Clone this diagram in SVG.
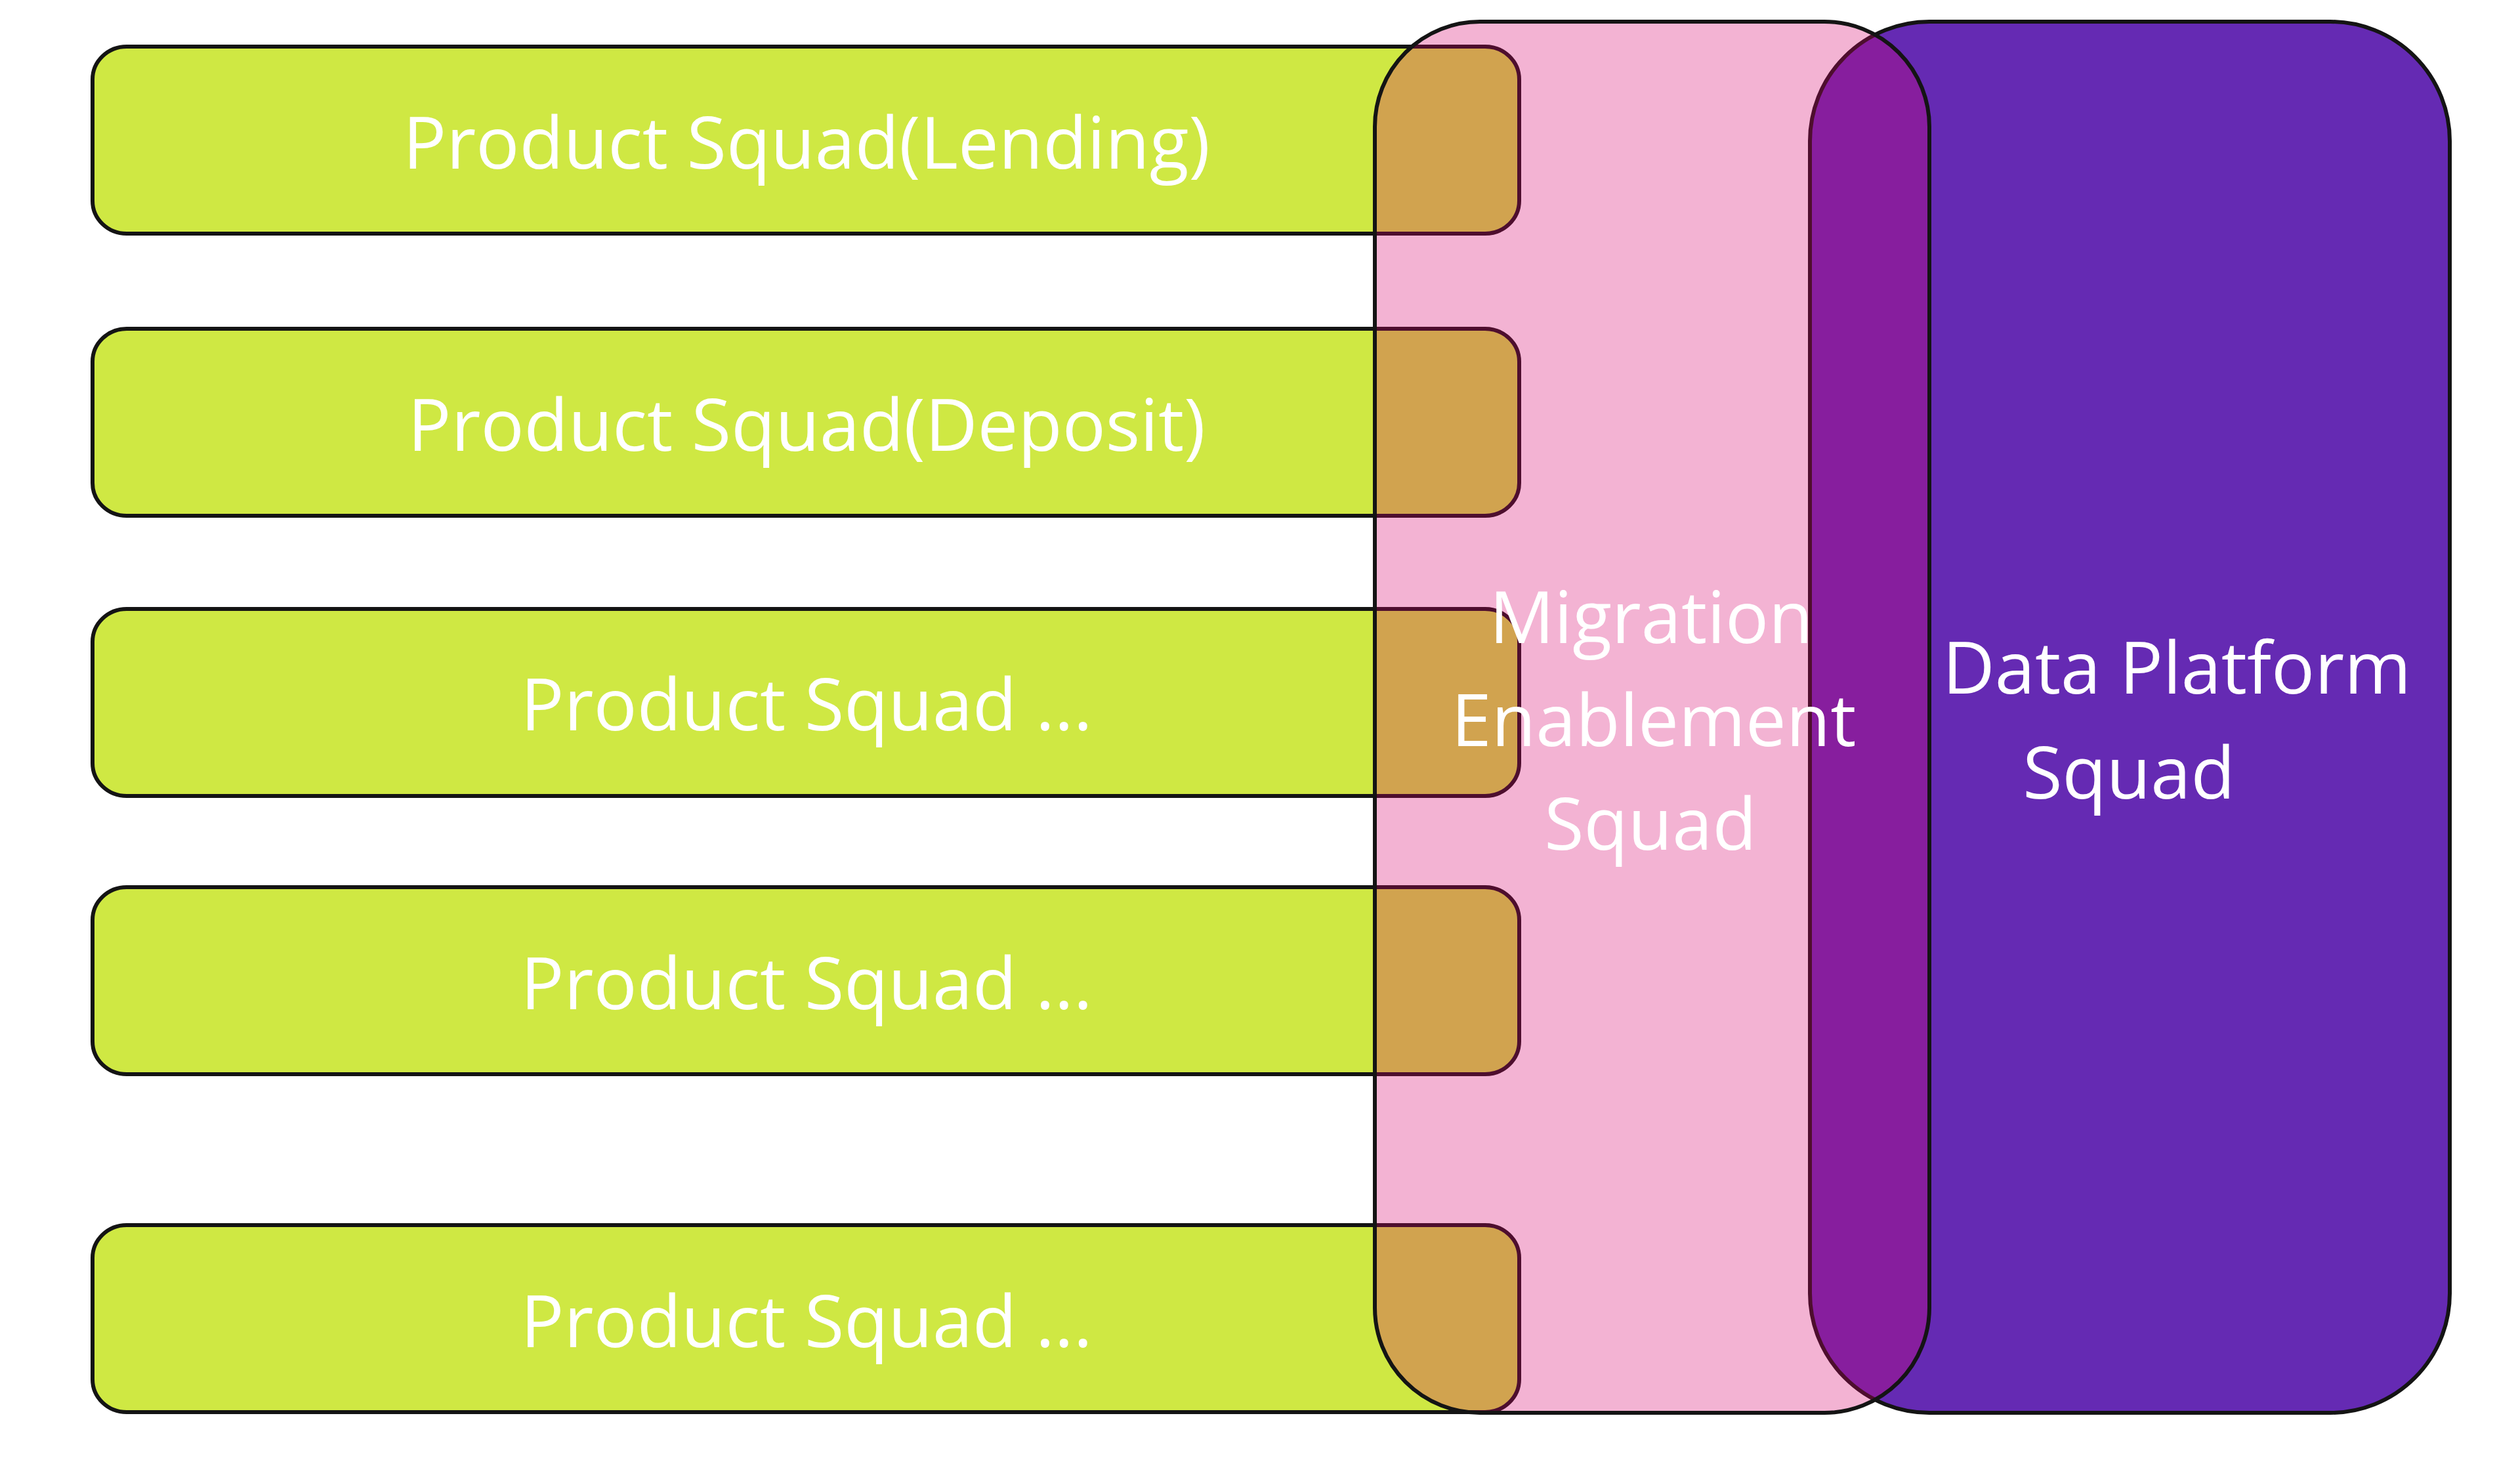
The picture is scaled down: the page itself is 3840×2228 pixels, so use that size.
<svg xmlns="http://www.w3.org/2000/svg" width="3840" height="2228" viewBox="0 0 3840 2228">
<style>
.lbl{font-family:"Open Sans","Liberation Sans",sans-serif;font-size:110px;fill:#ffffff;text-anchor:middle}
.green{fill:#CFE843;stroke:#141414;stroke-width:6}
.pink{fill:#D7026C;fill-opacity:0.3;stroke:#141414;stroke-width:6}
.purple{fill:#652AB3;stroke:#141414;stroke-width:6}
</style>
<rect width="3840" height="2228" fill="#ffffff"/>
<g id="data-platform-squad">
<rect class="purple" x="2758" y="33" width="975" height="2120" rx="182" ry="182"/>
<text class="lbl" x="3317" y="1057">Data Platform</text>
<text class="lbl" x="3244" y="1217">Squad</text>
</g>
<g id="product-squad-lending">
<rect class="green" x="141" y="71" width="2174" height="285" rx="52" ry="50"/>
<text class="lbl" x="1229" y="257">Product Squad(Lending)</text>
</g>
<g id="product-squad-deposit">
<rect class="green" x="141" y="501" width="2174" height="285" rx="52" ry="50"/>
<text class="lbl" x="1229" y="687">Product Squad(Deposit)</text>
</g>
<g id="product-squad-3">
<rect class="green" x="141" y="928" width="2174" height="285" rx="52" ry="50"/>
<text class="lbl" x="1229" y="1113">Product Squad ...</text>
</g>
<g id="product-squad-4">
<rect class="green" x="141" y="1352" width="2174" height="285" rx="52" ry="50"/>
<text class="lbl" x="1229" y="1538">Product Squad ...</text>
</g>
<g id="product-squad-5">
<rect class="green" x="141" y="1867" width="2174" height="285" rx="52" ry="50"/>
<text class="lbl" x="1229" y="2053">Product Squad ...</text>
</g>
<g id="migration-enablement-squad">
<rect class="pink" x="2095" y="33" width="845" height="2120" rx="160" ry="160"/>
<text class="lbl" x="2516" y="980">Migration</text>
<text class="lbl" x="2520" y="1137">Enablement</text>
<text class="lbl" x="2515" y="1295">Squad</text>
</g>
<g id="connectors"></g>
</svg>
